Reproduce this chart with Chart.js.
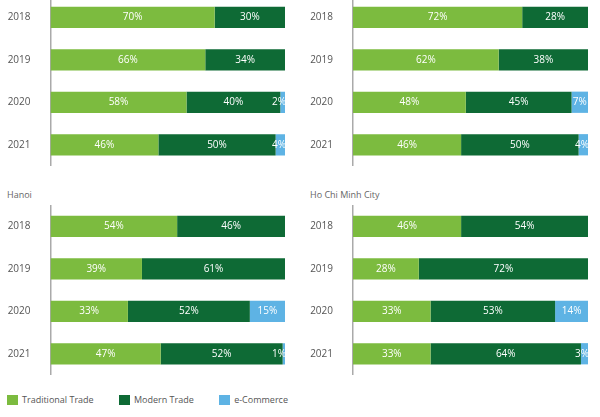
<!DOCTYPE html>
<html>
<head>
<meta charset="utf-8">
<script src="https://cdn.jsdelivr.net/npm/chart.js@4/dist/chart.umd.min.js"></script>
<style>
  body { margin: 0; width: 600px; height: 417px; overflow: hidden; background: #fff;
         font-family: 'Open Sans', sans-serif; position: relative; }
  .panel { position: absolute; width: 300px; height: 170px; }
  .title { position: absolute; font-size: 9px; color: #666; }
  .legend { position: absolute; top: 393px; left: 7px; font-size: 9px; color: #555; }
  .legend span { display: inline-flex; align-items: center; margin-right: 23px; }
  .legend i { display: inline-block; width: 11px; height: 10px; margin-right: 4px; }
</style>
</head>
<body>
<div class="panel" style="left:0;top:-4px"><canvas id="chart0"></canvas></div>
<div class="panel" style="left:300px;top:-4px"><canvas id="chart1"></canvas></div>
<div class="title" style="left:7px;top:188px">Hanoi</div>
<div class="title" style="left:310px;top:188px">Ho Chi Minh City</div>
<div class="panel" style="left:0;top:205px"><canvas id="chart2"></canvas></div>
<div class="panel" style="left:300px;top:205px"><canvas id="chart3"></canvas></div>
<div class="legend">
  <span><i style="background:#7cbb3f"></i>Traditional Trade</span>
  <span><i style="background:#0e6a35"></i>Modern Trade</span>
  <span><i style="background:#5eb3e4"></i>e-Commerce</span>
</div>
<script>
const years = ['2018', '2019', '2020', '2021']
const seriesNames = ['Traditional Trade', 'Modern Trade', 'e-Commerce']
const colors = ['#7cbb3f', '#0e6a35', '#5eb3e4']

// top-left panel
const panel0Traditional = [70, 66, 58, 46]
const panel0Modern = [30, 34, 40, 50]
const panel0Ecom = [0, 0, 2, 4]
// top-right panel
const panel1Traditional = [72, 62, 48, 46]
const panel1Modern = [28, 38, 45, 50]
const panel1Ecom = [0, 0, 7, 4]
// Hanoi
const hanoiTraditional = [54, 39, 33, 47]
const hanoiModern = [46, 61, 52, 52]
const hanoiEcom = [0, 0, 15, 1]
// Ho Chi Minh City
const hcmcTraditional = [46, 28, 33, 33]
const hcmcModern = [54, 72, 53, 64]
const hcmcEcom = [0, 0, 14, 3]

////////// value labels //////////
const barLabels = {
  id: 'barLabels',
  afterDatasetsDraw(chart) {
    const ctx = chart.ctx
    ctx.save()
    ctx.font = '10px "Open Sans"'
    ctx.fillStyle = '#fff'
    ctx.textBaseline = 'middle'
    chart.data.datasets.forEach((ds, di) => {
      chart.getDatasetMeta(di).data.forEach((bar, i) => {
        const v = ds.data[i]
        if (!v) return
        const text = v + '%'
        const w = ctx.measureText(text).width
        const segW = Math.abs(bar.x - bar.base)
        if (w + 2 > segW) {
          ctx.textAlign = 'right'
          ctx.fillText(text, bar.x + 1, bar.y)
        } else {
          ctx.textAlign = 'center'
          ctx.fillText(text, (bar.x + bar.base) / 2, bar.y)
        }
      })
    })
    ctx.restore()
  }
}

makeChart = (id, series, axisWidth, padRight) => {
  return new Chart(document.getElementById(id), {
    type: 'bar',
    data: {
      labels: years,
      datasets: series.map((data, i) => ({
        label: seriesNames[i],
        data: data,
        backgroundColor: colors[i],
        barPercentage: 0.5,
        categoryPercentage: 1
      }))
    },
    options: {
      indexAxis: 'y',
      responsive: true,
      maintainAspectRatio: false,
      animation: false,
      layout: { padding: { left: 0, right: padRight, top: 0, bottom: 0 } },
      plugins: { legend: { display: false }, tooltip: { enabled: false } },
      scales: {
        x: { stacked: true, min: 0, max: 100, display: false },
        y: {
          stacked: true,
          grid: { display: false, drawTicks: false },
          border: { display: true, color: '#aaa', width: 1.5 },
          ticks: { color: '#555', font: { family: 'Open Sans', size: 10 }, padding: 20 },
          afterFit: s => {
            s.width = axisWidth
            s.paddingTop = 0
            s.paddingBottom = 0
          }
        }
      }
    },
    plugins: [barLabels]
  })
}

makeChart('chart0', [panel0Traditional, panel0Modern, panel0Ecom], 50.5, 15)
makeChart('chart1', [panel1Traditional, panel1Modern, panel1Ecom], 53, 12)
makeChart('chart2', [hanoiTraditional, hanoiModern, hanoiEcom], 50.5, 15)
makeChart('chart3', [hcmcTraditional, hcmcModern, hcmcEcom], 53, 12)
</script>
</body>
</html>
